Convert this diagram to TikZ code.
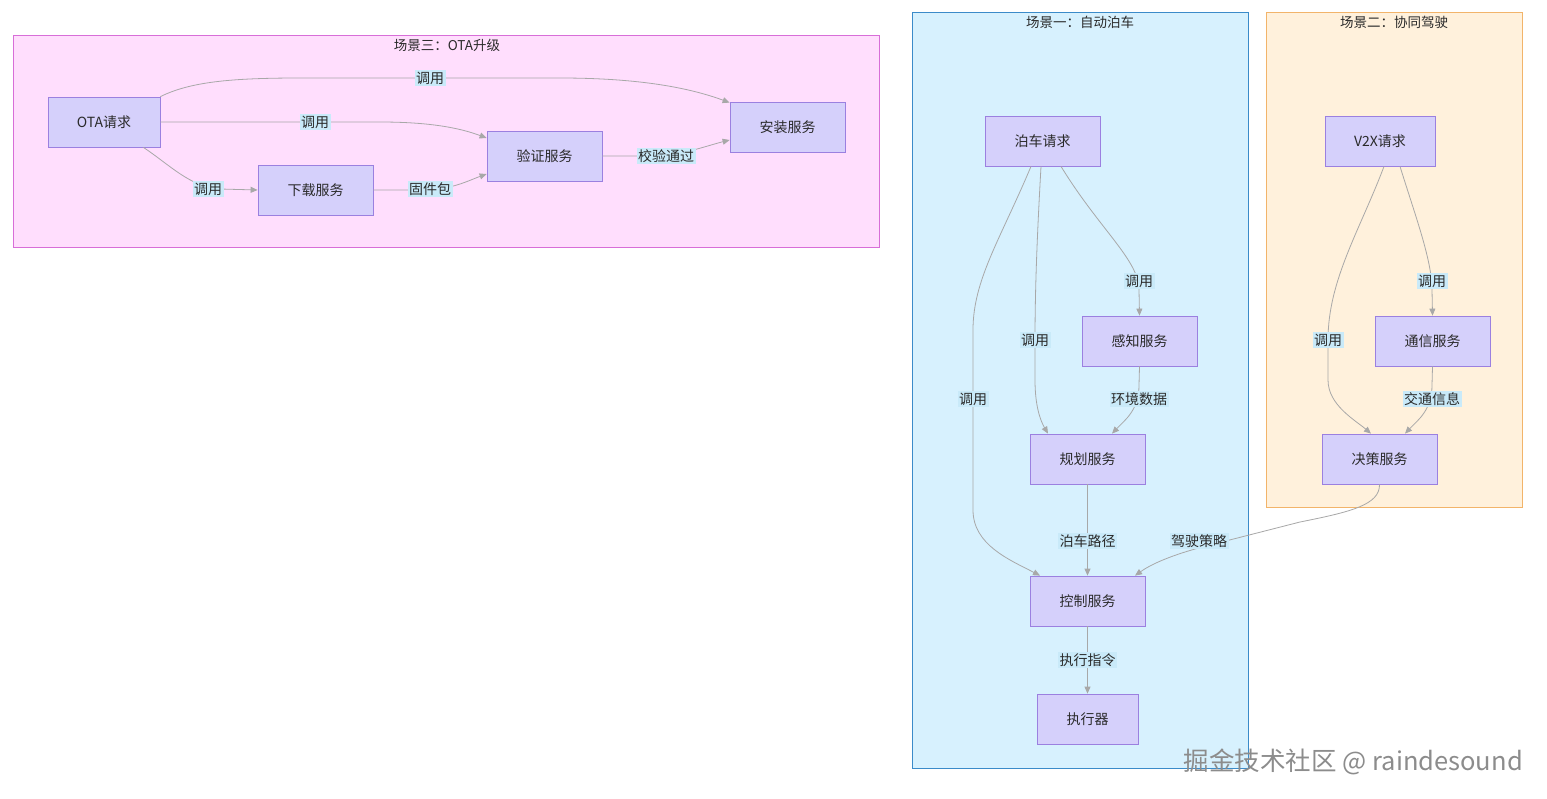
\documentclass[tikz,border=0pt]{standalone}
\usepackage{fontspec}
\setmainfont{Noto Sans CJK SC}
\usetikzlibrary{arrows.meta}
\definecolor{pinkfill}{HTML}{FFDEFD}
\definecolor{pinkdraw}{HTML}{D86ED8}
\definecolor{bluefill}{HTML}{D7F1FE}
\definecolor{bluedraw}{HTML}{3B8BC9}
\definecolor{orfill}{HTML}{FFF1DC}
\definecolor{ordraw}{HTML}{F2B46A}
\definecolor{nodefill}{HTML}{D5D0FB}
\definecolor{nodedraw}{HTML}{9B80E0}
\definecolor{lblfill}{HTML}{C9EAF9}
\definecolor{edgecol}{HTML}{A8A8A8}
\definecolor{txt}{HTML}{2A2A2A}
\tikzset{
  cluster/.style={line width=1pt},
  svc/.style={draw=nodedraw, fill=nodefill, line width=0.8pt, minimum height=50pt, inner sep=0pt, text=txt, font=\fontsize{14}{16}\selectfont},
  ttl/.style={text=txt, font=\fontsize{13.5}{16}\selectfont, inner sep=0pt},
  lbl/.style={fill=lblfill, text=txt, font=\fontsize{14}{16}\selectfont, inner sep=1.5pt},
  conn/.style={draw=edgecol, line width=0.8pt, -{Triangle[length=7pt,width=6pt]}},
}
\begin{document}
\begin{tikzpicture}[x=1pt,y=-1pt]
\useasboundingbox (0,0) rectangle (1547,798);
\fill[white] (0,0) rectangle (1547,798);
% clusters
\draw[cluster, draw=pinkdraw, fill=pinkfill] (13,35) rectangle (879,247);
\node[ttl] (t3) at (447,45) {场景三：OTA升级};
\draw[cluster, draw=bluedraw, fill=bluefill] (912,12) rectangle (1248,768);
\node[ttl] (t1) at (1080,22) {场景一：自动泊车};
\draw[cluster, draw=ordraw, fill=orfill] (1266,12) rectangle (1522,507);
\node[ttl] (t2) at (1394,22) {场景二：协同驾驶};
% OTA nodes
\node[svc, minimum width=112pt] (ota) at (104,122) {OTA请求};
\node[svc, minimum width=115pt] (dl) at (315.5,190) {下载服务};
\node[svc, minimum width=115pt] (ver) at (544.5,156) {验证服务};
\node[svc, minimum width=115pt] (inst) at (787.5,127) {安装服务};
% parking nodes
\node[svc, minimum width=115pt] (park) at (1042.5,141) {泊车请求};
\node[svc, minimum width=115pt] (sense) at (1139.5,341) {感知服务};
\node[svc, minimum width=115pt] (plan) at (1087.5,459) {规划服务};
\node[svc, minimum width=115pt] (ctrl) at (1087.5,601) {控制服务};
\node[svc, minimum width=101pt] (act) at (1087.5,719) {执行器};
% v2x nodes
\node[svc, minimum width=110pt] (v2x) at (1380,141) {V2X请求};
\node[svc, minimum width=115pt] (comm) at (1432.5,341) {通信服务};
\node[svc, minimum width=115pt] (dec) at (1379.5,459) {决策服务};
% OTA edges
\draw[conn] (ota.north east) .. controls (190,82) and (230,78) .. (300,78) -- (560,78) .. controls (640,78) and (690,88) .. ([yshift=-1pt]inst.north west);
\draw[conn] (ota.east) -- (380,122) .. controls (430,122) and (460,128) .. ([yshift=18pt]ver.west);
\draw[conn] ([xshift=-17pt]ota.south east) .. controls (170,165) and (190,187) .. (220,189) -- (dl.west);
\draw[conn] (dl.east) -- (430,190) .. controls (455,188) and (470,180) .. ([yshift=-18pt]ver.west);
\draw[conn] (ver.east) -- (666,156) .. controls (690,152) and (710,145) .. ([yshift=-13pt]inst.west);
% parking edges
\draw[conn] ([xshift=18.5pt]park.south) .. controls (1100,230) and (1139,260) .. (1139,290) -- (sense.north);
\draw[conn] ([xshift=-1.5pt]park.south) .. controls (1038,220) and (1035,280) .. (1035,340) -- (1035,380) .. controls (1035,405) and (1040,420) .. ([xshift=-39.5pt]plan.north);
\draw[conn] ([xshift=-11.5pt]park.south) .. controls (1000,240) and (973,280) .. (973,330) -- (973,510) .. controls (973,545) and (1010,560) .. ([xshift=-47.5pt]ctrl.north);
\draw[conn] (sense.south) -- (1139,385) .. controls (1139,410) and (1125,420) .. ([xshift=24.5pt]plan.north);
\draw[conn] (plan.south) -- (ctrl.north);
\draw[conn] (ctrl.south) -- (act.north);
\draw[conn] (dec.south) .. controls (1380,505) and (1350,512) .. (1300,522) -- (1210,545) .. controls (1170,555) and (1150,565) .. ([xshift=47.5pt]ctrl.north);
% v2x edges
\draw[conn] ([xshift=20pt]v2x.south) .. controls (1415,215) and (1432,260) .. (1432,290) -- (comm.north);
\draw[conn] ([xshift=4pt]v2x.south) .. controls (1360,230) and (1328,280) .. (1328,340) -- (1328,380) .. controls (1328,405) and (1355,420) .. ([xshift=-8.5pt]dec.north);
\draw[conn] (comm.south) -- (1432,385) .. controls (1432,410) and (1418,420) .. ([xshift=25.5pt]dec.north);
% labels
\node[lbl] (l1) at (430,78) {调用};
\node[lbl] (l2) at (315,122) {调用};
\node[lbl] (l3) at (208,189) {调用};
\node[lbl] (l4) at (430,189) {固件包};
\node[lbl] (l5) at (666,156) {校验通过};
\node[lbl] (l6) at (1139,281) {调用};
\node[lbl] (l7) at (1035,340) {调用};
\node[lbl] (l8) at (973,399) {调用};
\node[lbl] (l9) at (1139,399) {环境数据};
\node[lbl] (l10) at (1087.5,541) {泊车路径};
\node[lbl] (l11) at (1087.5,660) {执行指令};
\node[lbl] (l12) at (1199,541) {驾驶策略};
\node[lbl] (l13) at (1432,281) {调用};
\node[lbl] (l14) at (1328,340) {调用};
\node[lbl] (l15) at (1432,399) {交通信息};
% watermark
\node[text=black!45, font=\fontsize{25.5}{28}\selectfont, inner sep=0pt, anchor=east] (wm) at (1523,762) {掘金技术社区 @ raindesound};
\end{tikzpicture}
\end{document}
